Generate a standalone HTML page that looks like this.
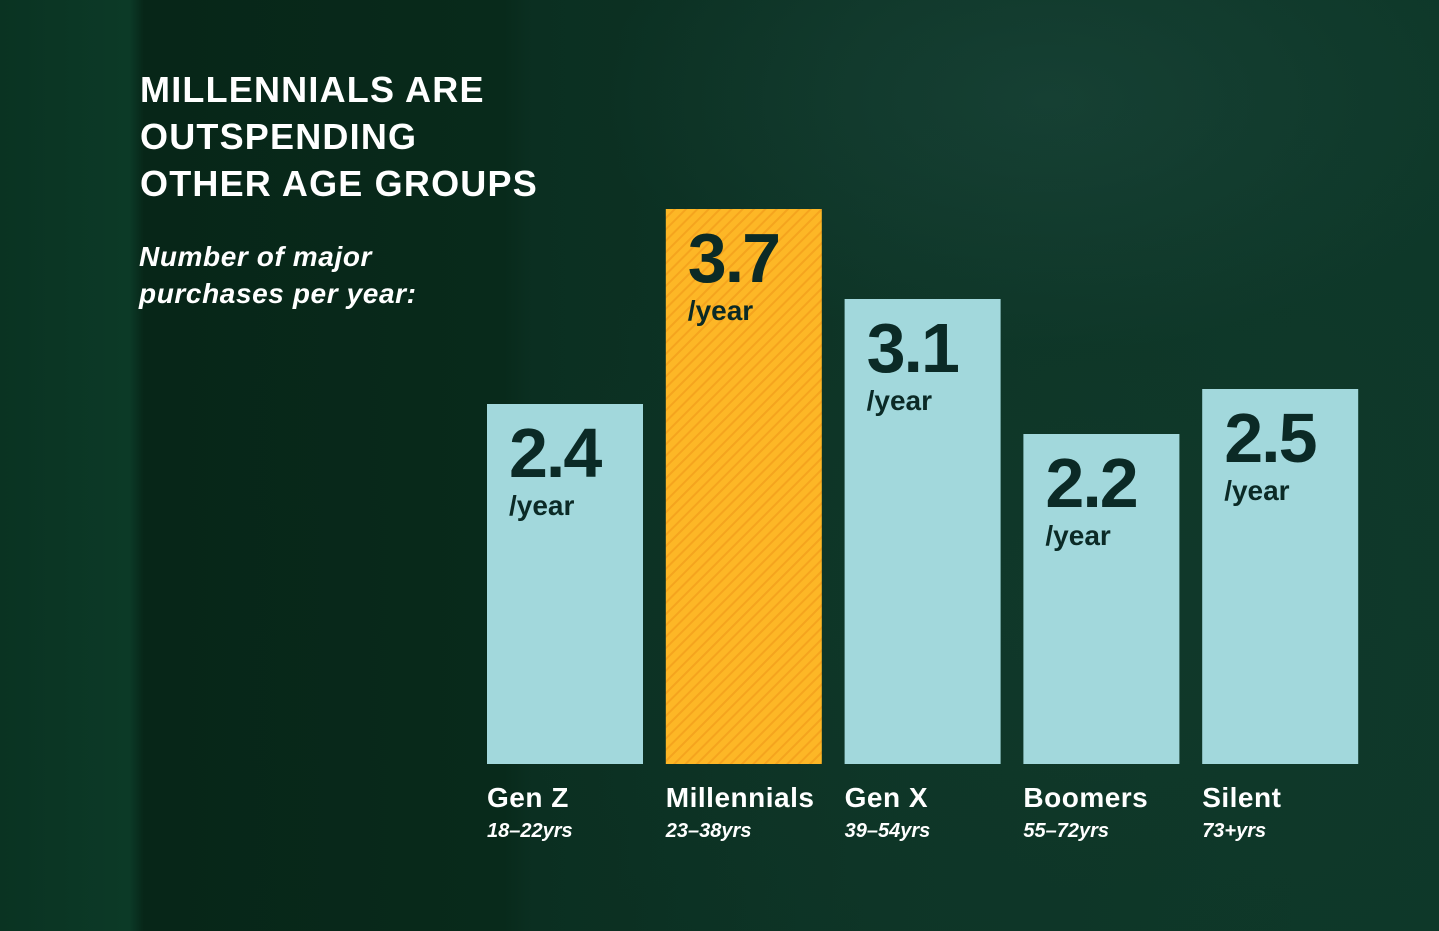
<!DOCTYPE html>
<html><head><meta charset="utf-8"><style>
html,body{margin:0;padding:0}
body{width:1439px;height:931px;overflow:hidden;position:relative;font-family:"Liberation Sans",sans-serif;
background:
radial-gradient(ellipse 450px 250px at 1050px 100px, rgba(35,80,70,0.4), transparent),
radial-gradient(ellipse 600px 500px at 1100px 600px, rgba(20,60,45,0.4), transparent),
linear-gradient(90deg,#0a3322 0%,#0c3a27 9%,#072618 10%,#082a1b 35%,#0b2f21 37%,#0d3426 60%,#0e3829 100%);}
.t{position:absolute;color:#fff;font-weight:bold}
</style></head><body>
<div class="t" style="left:140px;top:66px;font-size:36px;line-height:47px;letter-spacing:1.2px">MILLENNIALS ARE<br>OUTSPENDING<br>OTHER AGE GROUPS</div>
<div class="t" style="left:139px;top:238px;font-size:28px;line-height:37px;font-style:italic;letter-spacing:0.6px">Number of major<br>purchases per year:</div>
<svg id="c" width="1439" height="931" style="position:absolute;left:0;top:0">
<defs><pattern id="hatch" width="8" height="8" patternUnits="userSpaceOnUse" patternTransform="rotate(45)"><rect width="8" height="8" fill="#fdb726"/><rect width="2" height="8" fill="#f5a41e"/></pattern></defs>
</svg>
<script>
const categories=["Gen Z","Millennials","Gen X","Boomers","Silent"];
const ages=["18–22yrs","23–38yrs","39–54yrs","55–72yrs","73+yrs"];
const values=[2.4,3.7,3.1,2.2,2.5];
const valueLabels=["2.4","3.7","3.1","2.2","2.5"];
const highlight=[false,true,false,false,false];
const svg=document.getElementById('c');const NS="http://www.w3.org/2000/svg";
const base=764,scale=150,x0=487,step=178.8,bw=156;
const y=v=>base-v*scale;const x=i=>x0+i*step;
function mk(t,a,txt){const e=document.createElementNS(NS,t);for(const k in a)e.setAttribute(k,a[k]);if(txt!=null)e.textContent=txt;svg.appendChild(e);return e;}
values.forEach((v,i)=>{
 const r=mk('rect',{x:x(i),y:y(v),width:bw,height:v*scale,fill:highlight[i]?'url(#hatch)':'#a2d8dc'});
 
 
 const n=mk('text',{x:x(i)+22,y:y(v)+73,'font-size':70,'font-weight':'bold',fill:'#0b2a26','letter-spacing':'-2'},valueLabels[i]);
 
 
 const u=mk('text',{x:x(i)+22,y:y(v)+111,'font-size':28,'font-weight':'bold',fill:'#0b2a26'},'/year');
 
 
 const c=mk('text',{x:x(i),y:807,'font-size':28,'font-weight':'bold',fill:'#fff','letter-spacing':'0.5'},categories[i]);
 
 
 const a=mk('text',{x:x(i),y:837,'font-size':20,'font-weight':'bold','font-style':'italic',fill:'#fff'},ages[i]);
 
 
});
</script>
</body></html>
